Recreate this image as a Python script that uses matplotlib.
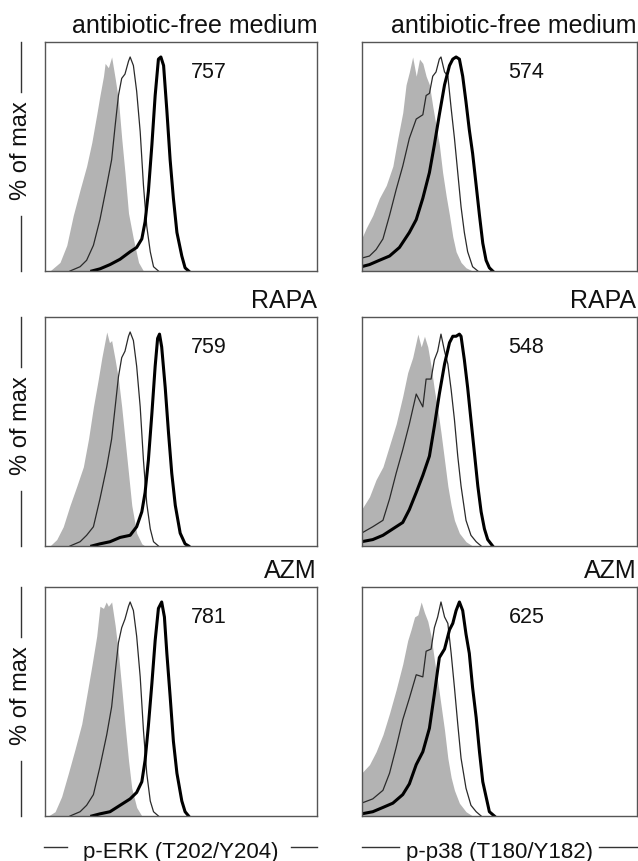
import matplotlib

matplotlib.use('Agg')
import matplotlib.pyplot as plt
from matplotlib.lines import Line2D

plt.rcParams['font.family'] = ['Liberation Sans', 'DejaVu Sans']

# data: x in channels (0-1000 across the panel), y in % of max
row_titles = ['antibiotic-free medium', 'RAPA', 'AZM']
col_labels = ['p-ERK (T202/Y204)', 'p-p38 (T180/Y182)']
mfi_erk = ['757', '759', '781']
mfi_p38 = ['574', '548', '625']

# p-ERK, antibiotic-free medium
erk_med_iso_x = [18, 55, 80, 104, 129, 153, 172, 190, 202, 215, 221, 233, 245, 258, 270, 282, 294, 307, 325, 344, 362]
erk_med_iso_y = [0, 4, 12, 26, 38, 49, 60, 73, 82, 91, 97, 95, 100, 90, 80, 62, 46, 27, 15, 4, 0]
erk_med_thin_x = [92, 129, 153, 178, 202, 227, 245, 258, 270, 282, 294, 307, 313, 325, 337, 350, 362, 374, 387, 399, 417]
erk_med_thin_y = [0, 2, 5, 12, 24, 40, 52, 68, 82, 90, 92, 98, 100, 96, 84, 65, 40, 21, 9, 2, 0]
erk_med_thick_x = [172, 202, 239, 276, 313, 337, 356, 368, 380, 393, 405, 417, 426, 436, 448, 460, 472, 485, 503, 515, 528]
erk_med_thick_y = [0, 1, 3, 5.5, 9, 11, 15, 23, 37, 59, 82, 99, 100, 96, 75, 52, 34, 18, 7, 1.5, 0]

# p-ERK, RAPA
erk_rapa_iso_x = [18, 43, 67, 92, 117, 141, 160, 178, 196, 209, 221, 227, 237, 245, 258, 270, 282, 294, 307, 319, 337, 356, 368]
erk_rapa_iso_y = [0, 3, 9, 19, 28, 37, 50, 65, 78, 88, 96, 100, 95, 96, 87, 78, 65, 50, 34, 19, 6, 1, 0]
erk_rapa_thin_x = [92, 129, 153, 178, 202, 227, 245, 258, 270, 282, 294, 307, 313, 325, 337, 350, 362, 374, 387, 399, 417]
erk_rapa_thin_y = [0, 2, 5, 9, 22, 37, 50, 65, 79, 88, 91, 98, 100, 96, 84, 65, 40, 20, 8, 2, 0]
erk_rapa_thick_x = [172, 202, 239, 276, 313, 337, 356, 368, 380, 393, 405, 414, 421, 429, 442, 454, 466, 479, 497, 515, 528]
erk_rapa_thick_y = [0, 1, 2, 4, 5, 9, 16, 25, 40, 62, 84, 97, 99, 93, 74, 53, 34, 19, 6, 1, 0]

# p-ERK, AZM
erk_azm_iso_x = [12, 37, 61, 86, 110, 135, 153, 172, 190, 202, 215, 225, 233, 245, 258, 270, 282, 294, 307, 319, 337, 356]
erk_azm_iso_y = [0, 2, 9, 20, 31, 43, 56, 70, 84, 98, 97, 100, 98, 100, 89, 76, 60, 43, 26, 13, 4, 0]
erk_azm_thin_x = [92, 129, 153, 178, 202, 227, 245, 258, 270, 282, 294, 307, 313, 325, 337, 350, 362, 374, 387, 399, 417]
erk_azm_thin_y = [0, 2, 5, 10, 23, 38, 51, 67, 81, 88, 92, 98, 100, 96, 84, 65, 40, 20, 7, 2, 0]
erk_azm_thick_x = [172, 202, 239, 276, 313, 337, 356, 368, 380, 393, 405, 417, 429, 439, 448, 460, 472, 485, 503, 515, 528]
erk_azm_thick_y = [0, 1, 2, 5, 8, 11, 16, 26, 42, 62, 82, 97, 100, 93, 76, 56, 35, 20, 7, 2, 0]

# p-p38, antibiotic-free medium
p38_med_iso_x = [0, 17, 41, 65, 90, 114, 132, 150, 162, 174, 186, 199, 211, 223, 235, 247, 259, 271, 283, 295, 308, 320, 332, 344, 362, 380, 404]
p38_med_iso_y = [15, 20, 26, 34, 40, 49, 62, 74, 87, 93, 100, 91, 99, 97, 91, 87, 77, 68, 59, 46, 35, 26, 16, 9, 4, 1.5, 0]
p38_med_thin_x = [0, 29, 53, 78, 102, 126, 150, 174, 199, 223, 235, 247, 259, 271, 283, 289, 302, 314, 326, 338, 350, 362, 374, 386, 404, 423]
p38_med_thin_y = [6, 7, 10, 15, 26, 38, 49, 62, 71, 73, 82, 83, 91, 93, 99, 100, 93, 91, 76, 62, 46, 30, 18, 9, 2, 0]
p38_med_thick_x = [0, 29, 65, 102, 138, 174, 199, 223, 247, 265, 283, 302, 320, 332, 344, 356, 368, 380, 392, 404, 417, 429, 441, 453, 465, 477]
p38_med_thick_y = [2, 3, 5, 7, 11, 18, 24, 34, 46, 59, 73, 87, 96, 99, 100, 99, 91, 79, 66, 55, 40, 26, 13, 5, 1.5, 0]

# p-p38, RAPA
p38_rapa_iso_x = [0, 29, 53, 78, 102, 126, 150, 168, 186, 205, 217, 229, 241, 253, 265, 277, 289, 302, 314, 326, 338, 356, 380, 404]
p38_rapa_iso_y = [17, 23, 31, 37, 47, 57, 70, 81, 88, 99, 93, 98, 93, 84, 73, 64, 53, 40, 28, 19, 12, 6, 2, 0]
p38_rapa_thin_x = [0, 41, 78, 102, 126, 150, 174, 199, 223, 235, 253, 265, 277, 289, 302, 314, 326, 338, 350, 362, 380, 398, 417, 435]
p38_rapa_thin_y = [6, 9, 12, 22, 34, 45, 57, 71, 65, 78, 78, 87, 91, 99, 91, 85, 73, 59, 42, 28, 12, 5, 2, 0]
p38_rapa_thick_x = [0, 41, 78, 114, 150, 174, 199, 223, 247, 265, 283, 302, 320, 332, 344, 356, 362, 374, 386, 398, 411, 423, 435, 447, 459, 477]
p38_rapa_thick_y = [2, 3, 5, 8, 11, 17, 25, 33, 42, 56, 71, 85, 95, 98, 98, 99, 98, 87, 74, 59, 43, 28, 16, 8, 3, 0]

# p-p38, AZM
p38_azm_iso_x = [0, 29, 53, 78, 102, 126, 150, 168, 180, 193, 205, 217, 229, 241, 253, 265, 277, 289, 302, 314, 326, 338, 356, 380, 404]
p38_azm_iso_y = [20, 24, 30, 38, 48, 59, 71, 82, 87, 93, 94, 100, 95, 91, 84, 73, 63, 52, 40, 27, 18, 12, 6, 2, 0]
p38_azm_thin_x = [0, 41, 78, 102, 126, 150, 174, 199, 223, 235, 253, 265, 277, 289, 302, 314, 326, 338, 350, 362, 380, 398, 417, 435]
p38_azm_thin_y = [6, 8, 12, 20, 32, 45, 55, 66, 65, 77, 78, 88, 93, 100, 93, 90, 76, 60, 43, 27, 13, 5, 2, 0]
p38_azm_thick_x = [0, 41, 78, 114, 150, 174, 199, 223, 247, 265, 283, 302, 320, 332, 344, 356, 368, 380, 392, 404, 417, 429, 441, 453, 465, 483]
p38_azm_thick_y = [1, 2, 4, 6, 10, 15, 24, 30, 41, 57, 74, 78, 87, 90, 96, 100, 96, 85, 76, 60, 46, 30, 16, 9, 2, 0]

panels = [
    [(erk_med_iso_x, erk_med_iso_y, erk_med_thin_x, erk_med_thin_y, erk_med_thick_x, erk_med_thick_y),
     (p38_med_iso_x, p38_med_iso_y, p38_med_thin_x, p38_med_thin_y, p38_med_thick_x, p38_med_thick_y)],
    [(erk_rapa_iso_x, erk_rapa_iso_y, erk_rapa_thin_x, erk_rapa_thin_y, erk_rapa_thick_x, erk_rapa_thick_y),
     (p38_rapa_iso_x, p38_rapa_iso_y, p38_rapa_thin_x, p38_rapa_thin_y, p38_rapa_thick_x, p38_rapa_thick_y)],
    [(erk_azm_iso_x, erk_azm_iso_y, erk_azm_thin_x, erk_azm_thin_y, erk_azm_thick_x, erk_azm_thick_y),
     (p38_azm_iso_x, p38_azm_iso_y, p38_azm_thin_x, p38_azm_thin_y, p38_azm_thick_x, p38_azm_thick_y)],
]

W, H = 638, 862
fig = plt.figure(figsize=(W / 100, H / 100), dpi=100)

col_left = [45, 361.5]
col_width = [272, 275]
row_top = [43, 318, 588]
panel_h = 229

for r in range(3):
    for c in range(2):
        rect = [col_left[c] / W, 1 - (row_top[r] + panel_h) / H, col_width[c] / W, panel_h / H]
        ax = fig.add_axes(rect)
        ix, iy, tx, ty, kx, ky = panels[r][c]
        ax.fill_between(ix, iy, color='#b3b3b3', lw=0)
        ax.plot(tx, ty, color='#2a2a2a', lw=0.9)
        ax.plot(kx, ky, color='black', lw=2.2)
        ax.set_xlim(0, 1000)
        ax.set_ylim(0, 107)
        ax.set_xticks([])
        ax.set_yticks([])
        for s in ax.spines.values():
            s.set_color('#555555')
            s.set_linewidth(1.0)

        ax.text(1.0, 1.045, row_titles[r], transform=ax.transAxes, ha='right', va='baseline',
                fontsize=18, color='#111111')
        num = mfi_erk[r] if c == 0 else mfi_p38[r]
        ax.text(0.535, 0.847, num, transform=ax.transAxes, ha='left', va='baseline',
                fontsize=15.5, color='#111111')

        if c == 0:
            # "% of max" with the dashes above and below
            ax.text(-0.088, 0.53, '% of max', transform=ax.transAxes, rotation=90,
                    ha='center', va='center', fontsize=17, color='#111111')
            for y0, y1 in [(1.0, 0.78), (0.24, 0.0)]:
                ax.add_line(Line2D([-0.088, -0.088], [y0, y1], transform=ax.transAxes,
                                   color='#333333', lw=1.0, clip_on=False))

        if r == 2:
            ax.text(0.5, -0.179, col_labels[c], transform=ax.transAxes, ha='center', va='baseline',
                    fontsize=16, color='#111111')
            if c == 0:
                segs = [(-0.004, 0.081), (0.905, 1.0)]
            else:
                segs = [(0.0, 0.138), (0.865, 1.0)]
            for x0, x1 in segs:
                ax.add_line(Line2D([x0, x1], [-0.137, -0.137], transform=ax.transAxes,
                                   color='#333333', lw=1.0, clip_on=False))

fig.savefig('out.png', dpi=100)
